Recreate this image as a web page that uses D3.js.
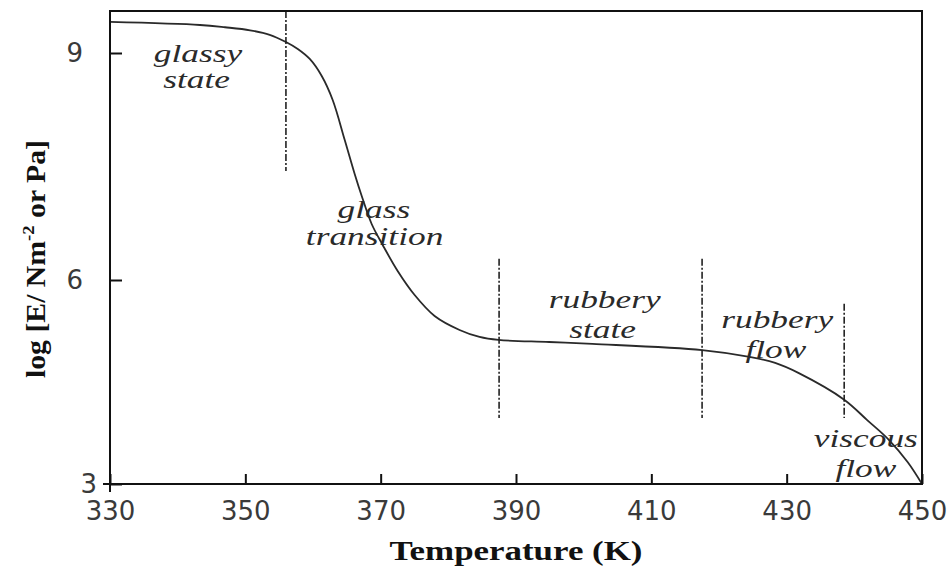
<!DOCTYPE html>
<html>
<head>
<meta charset="utf-8">
<script src="https://cdn.jsdelivr.net/npm/d3@7"></script>
<style>
  html, body { margin: 0; padding: 0; background: #fff; }
  svg { display: block; }
</style>
</head>
<body>
<svg id="chart" width="950" height="573"></svg>
<script>
// ---- data ----
const temperature = [330, 343.3, 347.0, 350.7, 353.6, 356.0, 357.75, 359.52, 361.29, 362.91, 364.69, 366.16, 367.2, 368.67, 370.3, 372.51, 375.02, 377.97, 381.66, 384.61, 387.42, 394.9, 401.3, 417.5, 424.5, 428.3, 431.8, 438.5, 441.9, 445.1, 447.9, 450];
const logModulus  = [9.41, 9.37, 9.34, 9.30, 9.24, 9.145, 9.053, 8.921, 8.696, 8.379, 7.85, 7.401, 7.11, 6.74, 6.463, 6.119, 5.779, 5.471, 5.265, 5.162, 5.118, 5.088, 5.06, 4.97, 4.87, 4.78, 4.63, 4.24, 3.94, 3.65, 3.32, 3.0];

const xTicks = [330, 350, 370, 390, 410, 430, 450];
const yTicks = [3, 6, 9];

const boundaryT    = [356, 387.5, 417.5, 438.5];
const boundaryTop  = [9.555, 6.28, 6.28, 5.65];
const boundaryBot  = [7.44, 3.97, 3.97, 3.97];

const labelText = ["glassy", "state", "glass", "transition", "rubbery", "state", "rubbery", "flow", "viscous", "flow"];
const labelT    = [343.0, 342.8, 369.0, 369.1, 403.1, 402.8, 428.6, 428.4, 441.7, 441.7];
const labelV    = [8.88, 8.54, 6.82, 6.46, 5.59, 5.15, 5.29, 4.85, 3.54, 3.10];

// ---- layout ----
const svg = d3.select("#chart");
const pLeft = 110, pRight = 922, pTop = 11, pBottom = 484;

const x = d3.scaleLinear().domain([330, 450]).range([pLeft, pRight]);
const y = d3.scaleLinear().domain([3, 6, 9, 9.555]).range([pBottom, 280, 53, pTop]);

// curve
const pts = temperature.map((t, i) => [t, logModulus[i]]);
svg.append("path")
  .datum(pts)
  .attr("fill", "none")
  .attr("stroke", "#2a2a2a")
  .attr("stroke-width", 1.8)
  .attr("d", d3.line().x(d => x(d[0])).y(d => y(d[1])).curve(d3.curveCatmullRom.alpha(0.5)));

// boundary dash-dot lines
svg.append("g").selectAll("line")
  .data(boundaryT)
  .join("line")
  .attr("x1", d => x(d)).attr("x2", d => x(d))
  .attr("y1", (d, i) => y(boundaryTop[i]))
  .attr("y2", (d, i) => y(boundaryBot[i]))
  .attr("stroke", "#222")
  .attr("stroke-width", 1.6)
  .attr("stroke-dasharray", "7,2,2,2");

// region labels
svg.append("g").selectAll("text")
  .data(labelText)
  .join("text")
  .attr("transform", (d, i) => `translate(${x(labelT[i])},${y(labelV[i])}) scale(1.36,1)`)
  .attr("text-anchor", "middle")
  .attr("font-family", "'Liberation Serif', 'Times New Roman', serif")
  .attr("font-style", "italic")
  .attr("font-size", 26)
  .attr("fill", "#2a2a2a")
  .text(d => d);

// axes
const xAxis = svg.append("g")
  .attr("transform", `translate(0,${pBottom})`)
  .call(d3.axisBottom(x).tickValues(xTicks).tickFormat(d3.format("d"))
    .tickSize(-10).tickSizeOuter(0).tickPadding(18));
const yAxis = svg.append("g")
  .attr("transform", `translate(${pLeft},0)`)
  .call(d3.axisLeft(y).tickValues(yTicks).tickFormat(d3.format("d"))
    .tickSize(-12).tickSizeOuter(0).tickPadding(27));

[xAxis, yAxis].forEach(g => {
  g.select(".domain").remove();
  g.selectAll(".tick line").attr("stroke", "#111").attr("stroke-width", 2);
  g.selectAll(".tick text")
    .attr("font-family", "'DejaVu Sans', sans-serif")
    .attr("font-size", 26)
    .attr("fill", "#3a3a3a");
});
yAxis.selectAll(".tick").filter(d => d === 3).select("text").attr("x", -13);

// frame
svg.append("rect")
  .attr("x", pLeft).attr("y", pTop)
  .attr("width", pRight - pLeft).attr("height", pBottom - pTop)
  .attr("fill", "none")
  .attr("stroke", "#111")
  .attr("stroke-width", 2);
// small corner overhang at the origin
svg.append("path")
  .attr("d", `M${pLeft},${pBottom} V${pBottom + 8} M${pLeft},${pBottom} H${pLeft - 7}`)
  .attr("stroke", "#111")
  .attr("stroke-width", 2);

// axis titles
svg.append("text")
  .attr("x", (pLeft + pRight) / 2)
  .attr("y", 560)
  .attr("text-anchor", "middle")
  .attr("font-family", "'Liberation Serif', 'Times New Roman', serif")
  .attr("font-weight", "bold")
  .attr("font-size", 27)
  .attr("fill", "#111")
  .attr("textLength", 253)
  .attr("lengthAdjust", "spacingAndGlyphs")
  .text("Temperature (K)");

const yt = svg.append("text")
  .attr("transform", "translate(45,259) rotate(-90)")
  .attr("text-anchor", "middle")
  .attr("font-family", "'Liberation Serif', 'Times New Roman', serif")
  .attr("font-weight", "bold")
  .attr("font-size", 27)
  .attr("fill", "#111")
  .attr("textLength", 238)
  .attr("lengthAdjust", "spacingAndGlyphs");
yt.append("tspan").text("log [E/ Nm");
yt.append("tspan").attr("font-size", 17).attr("dy", -11).text("-2");
yt.append("tspan").attr("dy", 11).text(" or Pa]");
</script>
</body>
</html>
